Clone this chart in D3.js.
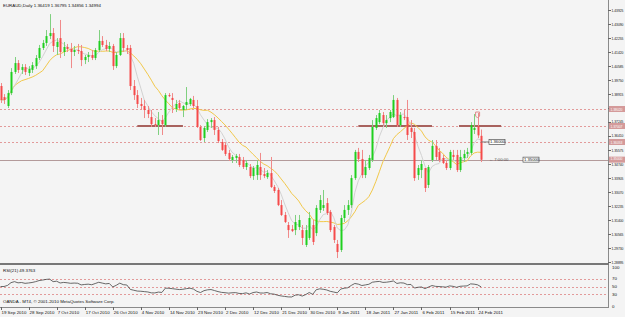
<!DOCTYPE html>
<html>
<head>
<meta charset="utf-8">
<script src="https://cdn.jsdelivr.net/npm/d3@7"></script>
<style>
  body { margin: 0; background: #f4f4f4; }
  svg { display: block; }
  text { font-family: "Liberation Sans", Arial, sans-serif; }
</style>
</head>
<body>
<svg id="chart"></svg>
<script>
// EURAUD daily bars, 19 Sep 2010 .. 25 Feb 2011
const opens = [1.3939,1.3873,1.3820,1.3897,1.4023,1.4076,1.4035,1.4052,1.4017,1.4035,1.4058,1.4106,1.4166,1.4196,1.4237,1.4255,1.4172,1.4225,1.4142,1.4172,
  1.4160,1.4142,1.4154,1.4148,1.4094,1.4112,1.4124,1.4106,1.4154,1.4208,1.4184,1.4160,1.4178,1.4058,1.4124,1.4225,1.4166,1.4166,1.3939,1.3885,
  1.3832,1.3820,1.3796,1.3754,1.3712,1.3706,1.3736,1.3706,1.3885,1.3868,1.3802,1.3838,1.3796,1.3826,1.3832,1.3856,1.3820,1.3695,1.3629,1.3677,
  1.3724,1.3736,1.3677,1.3605,1.3588,1.3540,1.3498,1.3510,1.3516,1.3498,1.3456,1.3456,1.3402,1.3408,1.3456,1.3414,1.3396,1.3420,1.3337,1.3319,
  1.3229,1.3170,1.3110,1.3086,1.3080,1.3098,1.3080,1.2991,1.3033,1.3110,1.3062,1.3200,1.3212,1.3241,1.3188,1.3098,1.2997,1.2961,1.3152,1.3200,
  1.3229,1.3390,1.3546,1.3504,1.3408,1.3450,1.3498,1.3689,1.3724,1.3766,1.3718,1.3748,1.3754,1.3856,1.3706,1.3754,1.3754,1.3689,1.3665,1.3408,
  1.3438,1.3450,1.3349,1.3498,1.3582,1.3546,1.3510,1.3480,1.3450,1.3528,1.3528,1.3438,1.3510,1.3534,1.3540,1.3677,1.3700,1.36419];
const highs = [1.3957,1.3891,1.3915,1.4046,1.4112,1.4094,1.4070,1.4070,1.4058,1.4082,1.4124,1.4184,1.4214,1.4273,1.4368,1.4285,1.4225,1.4333,1.4202,1.4190,
  1.4196,1.4178,1.4190,1.4184,1.4124,1.4142,1.4154,1.4166,1.4273,1.4237,1.4214,1.4202,1.4190,1.4142,1.4255,1.4255,1.4184,1.4184,1.3975,1.3915,
  1.3868,1.3856,1.3820,1.3796,1.3748,1.3784,1.3766,1.3897,1.3897,1.3897,1.3856,1.3856,1.3826,1.3933,1.3868,1.3880,1.3856,1.3706,1.3700,1.3742,
  1.3748,1.3754,1.3695,1.3623,1.3605,1.3558,1.3528,1.3534,1.3534,1.3516,1.3498,1.3474,1.3462,1.3498,1.3540,1.3450,1.3438,1.3516,1.3349,1.3331,
  1.3259,1.3188,1.3128,1.3110,1.3170,1.3170,1.3110,1.3110,1.3188,1.3140,1.3229,1.3289,1.3319,1.3271,1.3200,1.3110,1.3021,1.3170,1.3229,1.3259,
  1.3408,1.3558,1.3570,1.3558,1.3498,1.3528,1.3736,1.3766,1.3796,1.3784,1.3766,1.3796,1.3885,1.3868,1.3784,1.3796,1.3856,1.3736,1.3689,1.3468,
  1.3498,1.3408,1.3468,1.3617,1.3617,1.3570,1.3528,1.3498,1.3558,1.3558,1.3558,1.3558,1.3558,1.3570,1.3724,1.3772,1.3778,1.36795];
const lows = [1.3838,1.3832,1.3808,1.3885,1.4011,1.4017,1.4011,1.4005,1.3999,1.4017,1.4041,1.4094,1.4154,1.4178,1.4219,1.4142,1.4124,1.4106,1.4118,1.4142,
  1.4046,1.4118,1.4130,1.4058,1.4070,1.4082,1.4094,1.4094,1.4142,1.4172,1.4148,1.4142,1.4035,1.4046,1.4118,1.4142,1.4130,1.3915,1.3856,1.3808,
  1.3796,1.3748,1.3748,1.3695,1.3695,1.3647,1.3647,1.3695,1.3873,1.3778,1.3784,1.3796,1.3754,1.3796,1.3820,1.3808,1.3689,1.3611,1.3605,1.3665,
  1.3689,1.3647,1.3599,1.3552,1.3522,1.3492,1.3480,1.3480,1.3456,1.3444,1.3438,1.3390,1.3379,1.3379,1.3379,1.3390,1.3385,1.3331,1.3301,1.3223,
  1.3164,1.3122,1.3033,1.3068,1.3050,1.3080,1.2991,1.2979,1.3021,1.2991,1.3044,1.3182,1.3194,1.3170,1.3068,1.3003,1.2913,1.2949,1.3128,1.3170,
  1.3212,1.3379,1.3486,1.3390,1.3390,1.3438,1.3486,1.3677,1.3712,1.3706,1.3689,1.3724,1.3748,1.3695,1.3695,1.3736,1.3617,1.3629,1.3373,1.3379,
  1.3390,1.3307,1.3331,1.3486,1.3498,1.3486,1.3474,1.3438,1.3438,1.3498,1.3426,1.3426,1.3486,1.3510,1.3528,1.3653,1.3629,1.34856];
const closes = [1.3856,1.3856,1.3897,1.4023,1.4076,1.4035,1.4052,1.4023,1.4041,1.4064,1.4106,1.4166,1.4196,1.4237,1.4255,1.4178,1.4202,1.4142,1.4172,1.4160,
  1.4142,1.4154,1.4148,1.4094,1.4112,1.4124,1.4106,1.4154,1.4208,1.4184,1.4160,1.4178,1.4058,1.4124,1.4225,1.4166,1.4154,1.3939,1.3885,1.3832,
  1.3820,1.3796,1.3772,1.3712,1.3706,1.3736,1.3712,1.3885,1.3879,1.3856,1.3832,1.3808,1.3820,1.3844,1.3862,1.3820,1.3695,1.3617,1.3689,1.3724,
  1.3736,1.3677,1.3611,1.3558,1.3534,1.3504,1.3516,1.3522,1.3468,1.3456,1.3480,1.3402,1.3450,1.3468,1.3408,1.3402,1.3420,1.3337,1.3313,1.3229,
  1.3170,1.3128,1.3080,1.3074,1.3128,1.3140,1.3033,1.3080,1.3152,1.3009,1.3212,1.3259,1.3229,1.3182,1.3080,1.3021,1.2949,1.3152,1.3200,1.3229,
  1.3390,1.3546,1.3504,1.3408,1.3456,1.3510,1.3695,1.3748,1.3778,1.3718,1.3736,1.3784,1.3856,1.3706,1.3766,1.3748,1.3647,1.3665,1.3390,1.3450,
  1.3474,1.3331,1.3456,1.3582,1.3516,1.3498,1.3480,1.3450,1.3546,1.3516,1.3438,1.3516,1.3534,1.3546,1.3706,1.3689,1.3645,1.34994];

const priceTicks = ["1.43925","1.43090","1.42255","1.41420","1.40585","1.39750","1.38915","1.38080","1.37245","1.36410",
  "1.35575","1.34740","1.33905","1.33070","1.32235","1.31400","1.30565","1.29730","1.28895"];
const dateLabels = ["19 Sep 2010","28 Sep 2010","7 Oct 2010","17 Oct 2010","26 Oct 2010","4 Nov 2010","14 Nov 2010","23 Nov 2010",
  "2 Dec 2010","12 Dec 2010","21 Dec 2010","30 Dec 2010","9 Jan 2011","18 Jan 2011","27 Jan 2011","6 Feb 2011","15 Feb 2011","24 Feb 2011"];
const dashedLevels = [1.38020, 1.37007, 1.36053];
const bidLevel = 1.35000;
const supportLines = [[39, 52, 1.37007], [102, 123, 1.37007], [130.7, 142.7, 1.37007]];
const rsiLevels = [70, 50, 30];
const rsiTicks = [100, 70, 50, 30, 0];

const W = 625, H = 317, right = 608, fs = 4.4, ink = "#111";
const svg = d3.select("#chart").attr("width", W).attr("height", H);

const x = d3.scaleLinear().domain([0, 136]).range([0.5, 477.6]);
const y = d3.scaleLinear().domain([1.28895, 1.43925]).range([262, 10]);
const yR = d3.scaleLinear().domain([0, 100]).range([306, 267]);

// indicator lines from the closes (MA 5, MA 13, RSI 21)
function sma(n) {
  return closes.map((c, i) => d3.mean(closes.slice(Math.max(0, i - n + 1), i + 1)));
}
function rsi(n) {
  const diffs = closes.slice(1).map((c, i) => c - closes[i]);
  let ag = d3.mean(diffs.slice(0, n), Math.abs) / 2, al = ag;
  const out = [50];
  diffs.forEach(d => {
    ag = (ag * (n - 1) + Math.max(d, 0)) / n;
    al = (al * (n - 1) + Math.max(-d, 0)) / n;
    out.push(100 - 100 / (1 + ag / al));
  });
  return out;
}

svg.append("rect").attr("width", W).attr("height", H).attr("fill", "#f4f4f4");

// level lines
svg.selectAll(".lvl").data(dashedLevels).enter().append("line")
  .attr("x1", 0).attr("x2", right).attr("y1", d => Math.round(y(d)) + 0.5).attr("y2", d => Math.round(y(d)) + 0.5)
  .attr("stroke", "#e29a9a").attr("stroke-dasharray", "2,2");
svg.append("line").attr("x1", 0).attr("x2", right)
  .attr("y1", Math.round(y(bidLevel)) + 0.5).attr("y2", Math.round(y(bidLevel)) + 0.5)
  .attr("stroke", "#b39a9a");

// support/resistance segments
svg.selectAll(".sr").data(supportLines).enter().append("line")
  .attr("x1", d => x(d[0])).attr("x2", d => x(d[1])).attr("y1", d => y(d[2])).attr("y2", d => y(d[2]))
  .attr("stroke", "#a8625e").attr("stroke-width", 2);

// moving averages
const line = d3.line().x((d, i) => x(i)).y(d => y(d));
svg.append("path").datum(sma(13)).attr("d", line).attr("fill", "none").attr("stroke", "#f2c84a").attr("stroke-width", 1);
svg.append("path").datum(sma(5)).attr("d", line).attr("fill", "none").attr("stroke", "#d2d2d2").attr("stroke-width", 1);

// candles
const idx = d3.range(closes.length);
const up = i => closes[i] >= opens[i];
svg.selectAll(".wick").data(idx).enter().append("line")
  .attr("x1", i => Math.round(x(i)) + 0.5).attr("x2", i => Math.round(x(i)) + 0.5)
  .attr("y1", i => y(highs[i])).attr("y2", i => y(lows[i]))
  .attr("stroke", i => up(i) ? "#7fd07f" : "#f08a8a");
svg.selectAll(".body").data(idx).enter().append("rect")
  .attr("x", i => Math.round(x(i)) - 0.5).attr("width", 2)
  .attr("y", i => y(Math.max(opens[i], closes[i])))
  .attr("height", i => Math.max(1, Math.abs(y(opens[i]) - y(closes[i]))))
  .attr("fill", i => up(i) ? "#1fd01f" : "#f54a4a");

// marker above bar 136
svg.append("path").attr("d", `M${x(136) - 2},${y(highs[136]) - 1} h4 v4 l-2,2 l-2,-2 z`)
  .attr("fill", "none").attr("stroke", "#e08c8c");

// price boxes near the last bar
svg.append("line").attr("x1", x(137)).attr("x2", 489).attr("y1", y(1.36053)).attr("y2", y(1.36053)).attr("stroke", "#777");
svg.append("rect").attr("x", 489).attr("y", y(1.36053) - 2.5).attr("width", 16).attr("height", 5)
  .attr("fill", "#fff").attr("stroke", "#555").attr("stroke-width", 0.7);
svg.append("text").attr("x", 490).attr("y", y(1.36053) + 1.5).attr("font-size", 4.2).attr("fill", ink).text("1.36000");
svg.append("text").attr("x", 489).attr("y", y(bidLevel) + 1.5).attr("font-size", 4.2).attr("fill", "#555").text("\u2190 7:00:00");
svg.append("rect").attr("x", 523).attr("y", y(bidLevel) - 2.5).attr("width", 16).attr("height", 5)
  .attr("fill", "#fff").attr("stroke", "#555").attr("stroke-width", 0.7);
svg.append("text").attr("x", 524).attr("y", y(bidLevel) + 1.5).attr("font-size", 4.2).attr("fill", ink).text("1.35000");

// header
svg.append("text").attr("x", 3).attr("y", 7).attr("font-size", fs).attr("fill", ink)
  .text("EURAUD,Daily  1.36419 1.36795 1.34856 1.34994");

// right price axis; tick labels under a level tag are hidden, close ones nudged apart
const tags = dashedLevels.concat([bidLevel]);
const tagYs = tags.map(y);
const shown = priceTicks.filter(d => !tagYs.some(t => Math.abs(t - y(+d)) < 2.5));
const tickYs = shown.map(d => y(+d));
function nudge(v, others) {
  const n = others.find(o => Math.abs(o - v) < 6);
  return n == null ? v : v + (v < n ? -0.7 : 0.7);
}
svg.append("line").attr("x1", right + 0.5).attr("x2", right + 0.5).attr("y1", 0).attr("y2", 307).attr("stroke", "#8a8a8a");
svg.selectAll(".tk").data(priceTicks).enter().append("line")
  .attr("x1", right).attr("x2", right + 3).attr("y1", d => Math.round(y(+d)) + 0.5).attr("y2", d => Math.round(y(+d)) + 0.5)
  .attr("stroke", "#666");
svg.selectAll(".tkt").data(shown).enter().append("text")
  .attr("transform", d => `translate(${right + 3.5},${nudge(y(+d), tagYs) + 1.5}) scale(0.75,1)`)
  .attr("font-size", fs).attr("fill", ink).text(d => d);

// highlighted level tags
svg.selectAll(".tag").data(tags).enter().append("rect")
  .attr("x", right + 1).attr("y", d => y(d) - 3).attr("width", 16).attr("height", 6).attr("fill", "#d49a9a");
svg.selectAll(".tagt").data(tags).enter().append("text")
  .attr("transform", d => `translate(${right + 2.5},${nudge(y(d), tickYs) + 1.5}) scale(0.75,1)`)
  .attr("font-size", fs).attr("fill", "#fff").text(d => d.toFixed(5));

// panel separator
svg.append("rect").attr("x", 0).attr("y", 263).attr("width", right + 1).attr("height", 2).attr("fill", "#777");

// RSI panel
svg.selectAll(".rl").data(rsiLevels).enter().append("line")
  .attr("x1", 0).attr("x2", right).attr("y1", d => Math.round(yR(d)) + 0.5).attr("y2", d => Math.round(yR(d)) + 0.5)
  .attr("stroke", "#e29a9a").attr("stroke-dasharray", "2,2");
const rline = d3.line().x((d, i) => x(i)).y(d => yR(d));
svg.append("path").datum(rsi(21)).attr("d", rline).attr("fill", "none").attr("stroke", "#444").attr("stroke-width", 0.8);
svg.append("text").attr("x", 3).attr("y", 272).attr("font-size", fs).attr("fill", ink).text("RSI(21) 49.3763");
svg.append("text").attr("x", 3).attr("y", 303).attr("font-size", fs).attr("fill", ink)
  .text("OANDA - MT4, \u00a9 2001-2010 MetaQuotes Software Corp.");
svg.selectAll(".rt").data(rsiTicks).enter().append("text")
  .attr("x", right + 4).attr("y", d => yR(d) + 1.5).attr("font-size", fs).attr("fill", ink).text(d => d);

// bottom time axis
svg.append("line").attr("x1", 0).attr("x2", right + 1).attr("y1", 307.5).attr("y2", 307.5).attr("stroke", "#8a8a8a");
svg.selectAll(".dt").data(dateLabels).enter().append("line")
  .attr("x1", (d, k) => Math.round(x(k * 8)) + 0.5).attr("x2", (d, k) => Math.round(x(k * 8)) + 0.5)
  .attr("y1", 307).attr("y2", 310).attr("stroke", "#666");
svg.selectAll(".dtt").data(dateLabels).enter().append("text")
  .attr("x", (d, k) => x(k * 8) + 1).attr("y", 313.5).attr("font-size", fs).attr("fill", ink).text(d => d);
</script>
</body>
</html>
